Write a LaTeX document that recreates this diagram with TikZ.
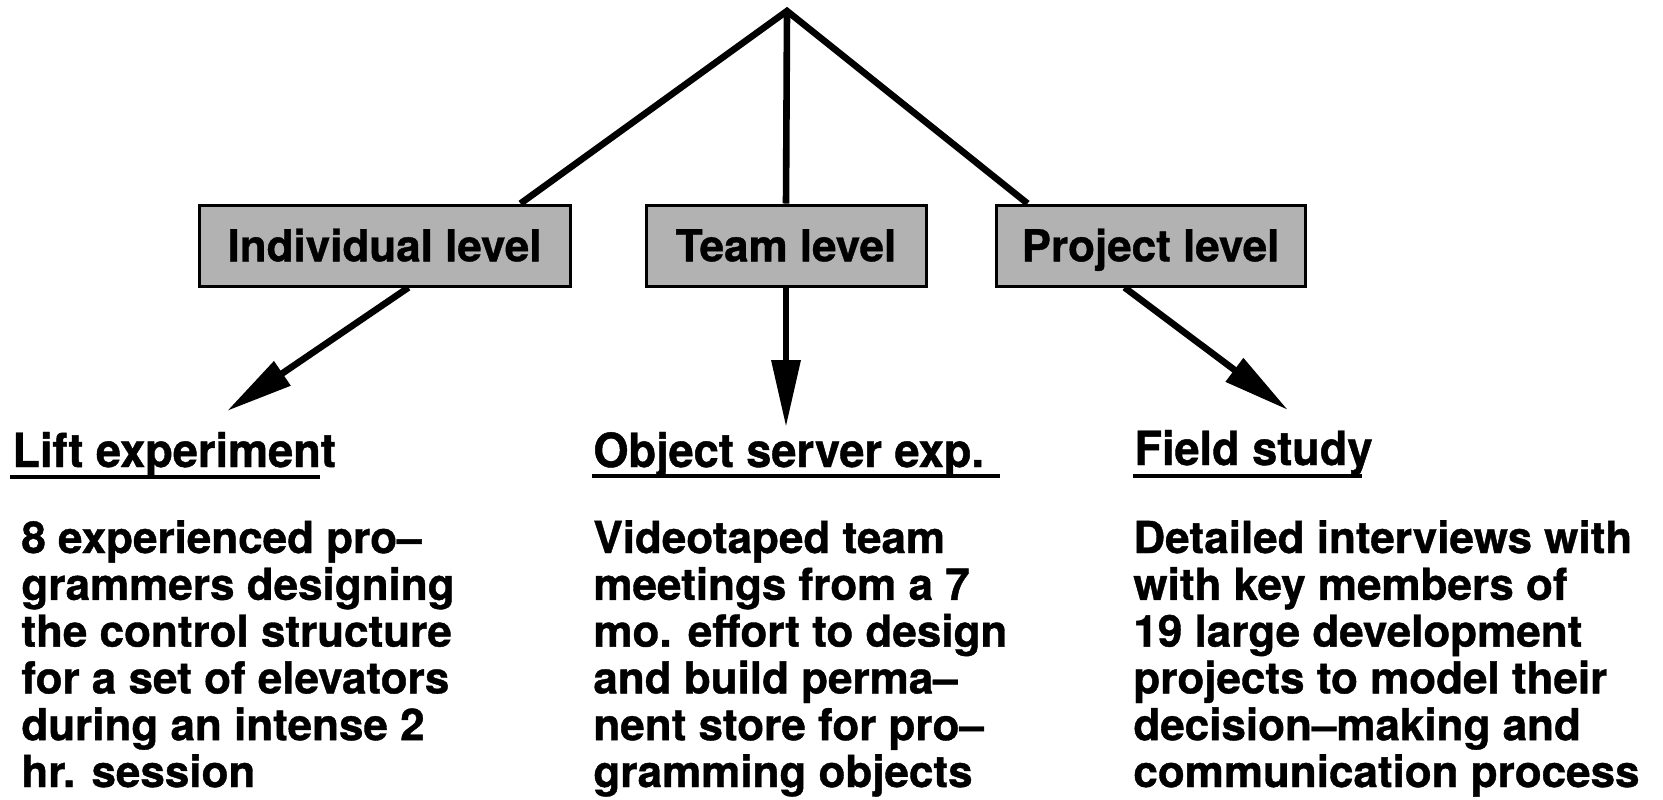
\documentclass[tikz,border=0pt]{standalone}
\usepackage{fontspec}
\setmainfont{TeX Gyre Heros}
\newfontface\boldface{texgyreheros-bold.otf}[Ligatures=TeX,FakeBold=0.9]
\newfontface\headface{texgyreheros-bold.otf}[Ligatures=TeX,FakeBold=0.9,FakeStretch=0.96]
\usetikzlibrary{arrows.meta,calc,backgrounds}
\tikzset{
  level/.style={draw, line width=1.5pt, fill=black!30, inner sep=0pt,
    minimum height=40.5pt, text height=15.8pt, text depth=0pt,
    font=\fontsize{22}{26}\selectfont\boldface},
  heading/.style={anchor=base west, inner sep=0pt,
    font=\fontsize{23.5}{26}\selectfont\headface},
  body/.style={anchor=base west, inner sep=0pt},
  link/.style={line width=3.3pt, line join=miter},
  arrowlink/.style={line width=3.3pt, -{Triangle[length=33.5pt,width=14pt]}},
  uline/.style={line width=1.8pt},
}
\newcommand{\bodytext}[1]{\parbox[t]{300pt}{\fontsize{22}{23.4}\selectfont\boldface\raggedright #1}}
\begin{document}
\begin{tikzpicture}[x=0.5pt,y=-0.5pt]
\useasboundingbox (0,0) rectangle (1663,799);

% level boxes
\node[level, minimum width=185.5pt] (ind) at (384.5,245.5) {Individual level};
\node[level, minimum width=140pt] (team) at (786,245.5) {Team level};
\node[level, minimum width=154.5pt] (proj) at (1150.5,245.5) {Project level};

% study headings
\node[heading] (lift) at (12,467) {Lift experiment};
\node[heading] (objs) at (593,467) {Object server exp.};
\node[heading] (field) at (1134,465) {Field study};
\draw[uline] (10,477) -- (320,477);
\draw[uline] (592,476) -- (1000,476);
\draw[uline] (1133,476) -- (1362,476);

% study descriptions
\node[body] (liftd) at (21,553) {\bodytext{8 experienced pro--\\grammers designing\\the control structure\\for a set of elevators\\during an intense 2\\hr. session}};
\node[body] (objsd) at (593,553) {\bodytext{Videotaped team\\meetings from a 7\\mo. effort to design\\and build perma--\\nent store for pro--\\gramming objects}};
\node[body] (fieldd) at (1133,553) {\bodytext{Detailed interviews with\\with key members of\\19 large development\\projects to model their\\decision--making and\\communication process}};

% tree connectors
\coordinate (apex) at (787,11);
\coordinate (indtop) at ($(ind.north west)+(323,0)$);
\coordinate (projtop) at ($(proj.north west)+(33,0)$);
\coordinate (indbot) at ($(ind.south west)+(211,0)$);
\coordinate (projbot) at ($(proj.south west)+(130,0)$);
\coordinate (lifttip) at (227,411);
\coordinate (teamtip) at (786,427);
\coordinate (fieldtip) at (1288,410);

\begin{scope}[on background layer]
\fill[white] (0,0) rectangle (1663,799);
\draw[link] (indtop) -- (apex) -- (projtop);
\draw[link] (apex) -- (team.north);
\draw[arrowlink] (indbot) -- (lifttip);
\draw[arrowlink] (team.south) -- (teamtip);
\draw[arrowlink] (projbot) -- (fieldtip);
\end{scope}
\end{tikzpicture}
\end{document}
